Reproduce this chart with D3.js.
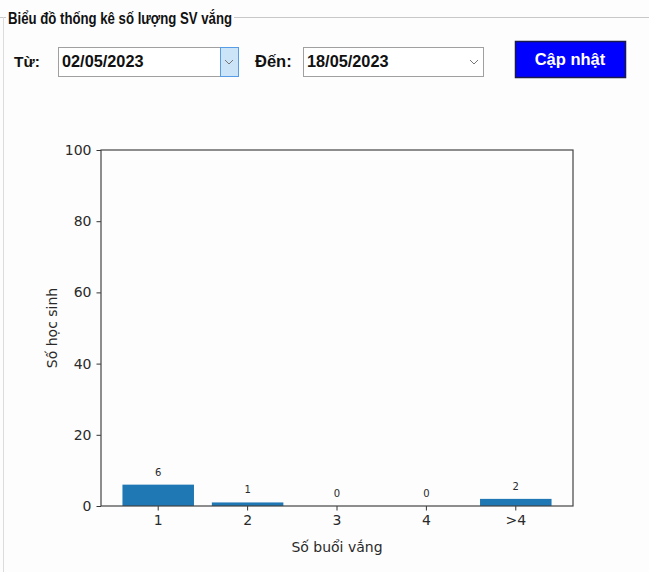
<!DOCTYPE html>
<html>
<head>
<meta charset="utf-8">
<script src="https://cdn.jsdelivr.net/npm/d3@7"></script>
<style>
  html, body { margin: 0; padding: 0; background: #fdfdfd; }
  svg { display: block; }
</style>
</head>
<body>
<div id="chart"></div>
<script>
// dữ liệu biểu đồ
const categories = ["1", "2", "3", "4", ">4"];
const counts = [6, 1, 0, 0, 2];
const yTicks = [0, 20, 40, 60, 80, 100];

const W = 649, H = 572;
const svg = d3.select('#chart').append('svg')
    .attr('width', W).attr('height', H);

const uiFont = '"Liberation Sans", Arial, sans-serif';
const mplFont = '"DejaVu Sans", sans-serif';

// khung group box
svg.append('line').attr('x1', 0).attr('x2', 6).attr('y1', 17.5).attr('y2', 17.5)
    .style('stroke', '#c8c8c8');
svg.append('line').attr('x1', 234).attr('x2', W).attr('y1', 17.5).attr('y2', 17.5)
    .style('stroke', '#c8c8c8');
svg.append('line').attr('x1', 3.5).attr('x2', 3.5).attr('y1', 17).attr('y2', H)
    .style('stroke', '#dcdcdc');
svg.append('text').attr('x', 8).attr('y', 24)
    .attr('textLength', 224).attr('lengthAdjust', 'spacingAndGlyphs')
    .text('Biểu đồ thống kê số lượng SV vắng')
    .style('font-family', '"Liberation Sans Narrow", "Liberation Sans", Arial, sans-serif')
    .style('font-size', '16px').style('font-weight', 'bold')
    .style('fill', '#111');

// các điều khiển chọn ngày
svg.append('text').attr('x', 14).attr('y', 67).text('Từ:')
    .style('font-family', uiFont).style('font-size', '15.5px').style('font-weight', 'bold').style('fill', '#111');
svg.append('text').attr('x', 255).attr('y', 67).text('Đến:')
    .style('font-family', uiFont).style('font-size', '16.5px').style('font-weight', 'bold').style('fill', '#111');

function combo(x, label, active) {
    const g = svg.append('g').attr('transform', `translate(${x},47)`);
    g.append('rect').attr('x', 0.5).attr('y', 0.5).attr('width', 180).attr('height', 29)
        .style('fill', '#fff').style('stroke', '#a0a0a0');
    if (active) {
        g.append('rect').attr('x', 162.5).attr('y', 0.5).attr('width', 18).attr('height', 29)
            .style('fill', '#cce4f7').style('stroke', '#569de5');
    }
    g.append('path').attr('d', 'M167,13 L171,17 L175,13')
        .style('fill', 'none').style('stroke', '#777').style('stroke-width', 1);
    g.append('text').attr('x', 4).attr('y', 20).text(label)
        .style('font-family', uiFont).style('font-size', '16.3px').style('font-weight', 'bold').style('fill', '#111');
}
combo(58, '02/05/2023', true);
combo(303, '18/05/2023', false);

svg.append('rect').attr('x', 515.5).attr('y', 41.5).attr('width', 110).attr('height', 36)
    .style('fill', '#0000ff').style('stroke', '#1a1a4a').style('stroke-width', 1.5);
svg.append('text').attr('x', 570).attr('y', 65).attr('text-anchor', 'middle').text('Cập nhật')
    .style('font-family', uiFont).style('font-size', '16.5px').style('font-weight', 'bold').style('fill', '#fff');

// vùng biểu đồ
const plot = { left: 101, right: 573, top: 150, bottom: 506 };
const x = d3.scaleBand().domain(categories)
    .range([plot.left, plot.right]).paddingInner(0.2).paddingOuter(0.24);
const y = d3.scaleLinear().domain([0, 100]).range([plot.bottom, plot.top]);

const g = svg.append('g');

g.selectAll('rect.bar').data(categories)
    .join('rect').attr('class', 'bar')
    .attr('x', d => x(d))
    .attr('width', x.bandwidth())
    .attr('y', (d, i) => y(counts[i]))
    .attr('height', (d, i) => y(0) - y(counts[i]))
    .style('fill', '#1f77b4');

g.selectAll('text.val').data(categories)
    .join('text').attr('class', 'val')
    .attr('x', d => x(d) + x.bandwidth() / 2)
    .attr('y', (d, i) => y(counts[i]) - 9)
    .attr('text-anchor', 'middle')
    .text((d, i) => counts[i])
    .style('font-family', mplFont).style('font-size', '10px').style('fill', '#2a2a2a');

const yAxis = g.append('g').attr('transform', `translate(${plot.left},0)`)
    .call(d3.axisLeft(y).tickValues(yTicks).tickSize(4.5).tickPadding(5));
const xAxis = g.append('g').attr('transform', `translate(0,${plot.bottom})`)
    .call(d3.axisBottom(x).tickSize(4.5).tickPadding(5));
[yAxis, xAxis].forEach(a => {
    a.select('.domain').remove();
    a.selectAll('line').style('stroke', '#333');
    a.selectAll('text').style('font-family', mplFont).style('font-size', '14px').style('fill', '#2a2a2a');
});

g.append('rect')
    .attr('x', plot.left).attr('y', plot.top)
    .attr('width', plot.right - plot.left).attr('height', plot.bottom - plot.top)
    .style('fill', 'none').style('stroke', '#444').style('stroke-width', 1.2);

g.append('text')
    .attr('x', (plot.left + plot.right) / 2).attr('y', 552)
    .attr('text-anchor', 'middle').text('Số buổi vắng')
    .style('font-family', mplFont).style('font-size', '14px').style('fill', '#2a2a2a');
g.append('text')
    .attr('transform', `translate(57,${(plot.top + plot.bottom) / 2}) rotate(-90)`)
    .attr('text-anchor', 'middle').text('Số học sinh')
    .style('font-family', mplFont).style('font-size', '14px').style('fill', '#2a2a2a');
</script>
</body>
</html>
